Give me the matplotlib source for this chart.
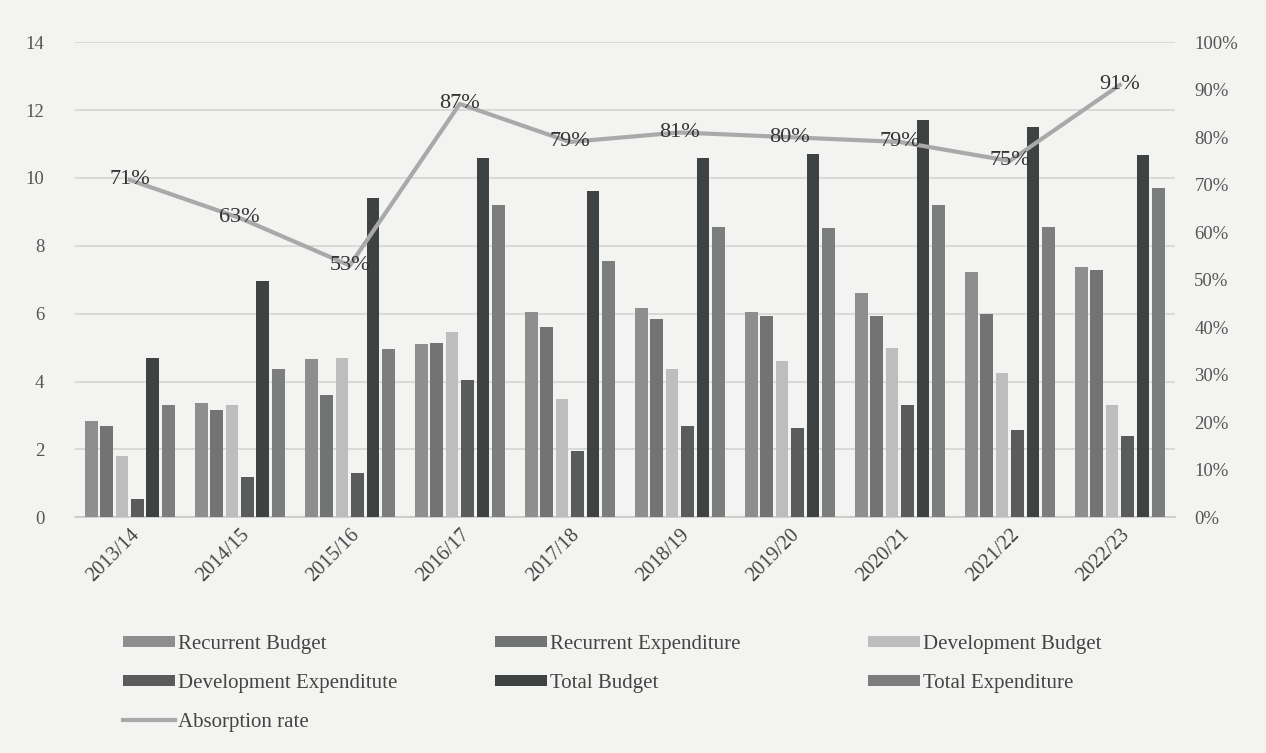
import matplotlib
matplotlib.use("Agg")
import matplotlib.pyplot as plt
import matplotlib.transforms as mtransforms
import numpy as np
from matplotlib.ticker import PercentFormatter

years = ["2013/14", "2014/15", "2015/16", "2016/17", "2017/18",
         "2018/19", "2019/20", "2020/21", "2021/22", "2022/23"]
recurrent_budget = [2.85, 3.38, 4.65, 5.10, 6.06, 6.18, 6.06, 6.60, 7.24, 7.37]
recurrent_expenditure = [2.70, 3.15, 3.60, 5.15, 5.60, 5.85, 5.94, 5.93, 6.00, 7.30]
development_budget = [1.80, 3.30, 4.68, 5.45, 3.50, 4.38, 4.62, 5.00, 4.26, 3.30]
development_expenditure = [0.55, 1.18, 1.32, 4.06, 1.94, 2.68, 2.62, 3.30, 2.58, 2.40]
total_budget = [4.68, 6.95, 9.40, 10.60, 9.62, 10.60, 10.70, 11.70, 11.50, 10.68]
total_expenditure = [3.30, 4.38, 4.97, 9.20, 7.56, 8.56, 8.53, 9.20, 8.55, 9.70]
absorption_rate = [71, 63, 53, 87, 79, 81, 80, 79, 75, 91]

series = [
    ("Recurrent Budget", recurrent_budget, "#8e8e8e"),
    ("Recurrent Expenditure", recurrent_expenditure, "#727474"),
    ("Development Budget", development_budget, "#bcbdbc"),
    ("Development Expenditute", development_expenditure, "#5a5c5c"),
    ("Total Budget", total_budget, "#3f4242"),
    ("Total Expenditure", total_expenditure, "#7c7e7e"),
]

plt.rcParams['font.family'] = ['Liberation Serif', 'DejaVu Serif']
bg = "#f3f3f1"
W, H = 1266, 753
fig = plt.figure(figsize=(W / 100, H / 100), dpi=100, facecolor=bg)
ax = fig.add_axes([0.059, 0.313, 0.869, 0.631], facecolor=bg)

x = np.arange(len(years))
step = 0.14
width = 0.115
handles = []
for i, (name, vals, col) in enumerate(series):
    b = ax.bar(x + (i - 2.5) * step, vals, width, color=col, label=name, zorder=3)
    handles.append(b)

ax.set_ylim(0, 14)
ax.set_yticks(range(0, 15, 2))
ax.set_xlim(-0.5, len(years) - 0.5)
ax.set_xticks(x)
ax.set_xticklabels(years, rotation=45, ha="right", rotation_mode="anchor", fontsize=14.5, color="#444444")
offset = mtransforms.ScaledTranslation(-6 / 100, -6 / 100, fig.dpi_scale_trans)
for lbl in ax.get_xticklabels():
    lbl.set_transform(lbl.get_transform() + offset)
ax.tick_params(axis="y", labelsize=13.5, colors="#555555", length=0, pad=22)
ax.tick_params(axis="x", length=0, pad=6)
ax.grid(axis="y", color="#d4d4d2", linewidth=1.2, zorder=0)
for s in ["top", "right", "left"]:
    ax.spines[s].set_visible(False)
ax.spines["bottom"].set_color("#c8c8c6")
ax.spines["bottom"].set_linewidth(1.2)

ax2 = ax.twinx()
ax2.set_ylim(0, 100)
ax2.set_yticks(range(0, 101, 10))
ax2.yaxis.set_major_formatter(PercentFormatter(decimals=0))
ax2.tick_params(axis="y", labelsize=13.5, colors="#555555", length=0, pad=14)
for s in ax2.spines.values():
    s.set_visible(False)
line, = ax2.plot(x, absorption_rate, color="#a8a9a8", linewidth=3, label="Absorption rate", zorder=4)
for xi, v in zip(x, absorption_rate):
    ax2.text(xi, v, f"{v}%", ha="center", va="center", fontsize=16, color="#333333", zorder=5)

# legend: three columns placed at fixed x positions, row-major order
h = handles
columns = [
    ([h[0], h[3], line], [series[0][0], series[3][0], "Absorption rate"], 123),
    ([h[1], h[4]], [series[1][0], series[4][0]], 495),
    ([h[2], h[5]], [series[2][0], series[5][0]], 868),
]
for hs, ls, xpx in columns:
    leg = fig.legend(hs, ls, loc="upper left", bbox_to_anchor=(xpx / W, 1 - 635 / H),
                     frameon=False, fontsize=15, handlelength=2.5, handleheight=0.45,
                     labelspacing=0.96, handletextpad=0.12, borderaxespad=0, borderpad=0)
    for t in leg.get_texts():
        t.set_color("#444444")

fig.savefig("out.png", dpi=100, facecolor=bg)
